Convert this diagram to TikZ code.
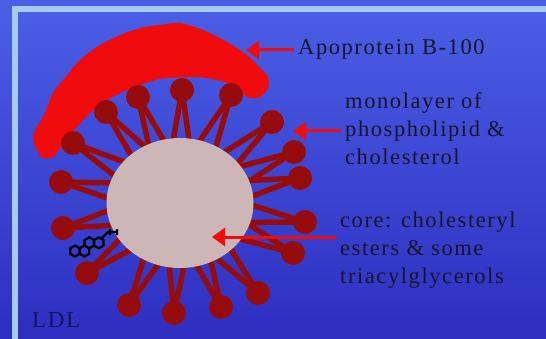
\documentclass[tikz,border=0pt]{standalone}
\usepackage{fontspec}
\newfontfamily\lblfont{Liberation Serif}[LetterSpace=7]
\usetikzlibrary{arrows.meta,calc}

\definecolor{bgtop}{RGB}{75,95,230}
\definecolor{bgmid}{RGB}{50,52,205}
\definecolor{bgbot}{RGB}{46,46,192}
\definecolor{framecol}{RGB}{165,203,245}
\definecolor{apored}{RGB}{240,12,12}
\definecolor{lipid}{RGB}{150,12,12}
\definecolor{corecol}{RGB}{204,182,182}
\definecolor{inkcol}{RGB}{22,22,40}
\definecolor{ldlcol}{RGB}{20,20,95}

\tikzset{
	lbl/.style={font=\lblfont\fontsize{22.5}{28}\selectfont, text=inkcol, align=left, inner sep=4pt},
	redarrow/.style={draw=apored, line width=3pt, -{Triangle[length=13pt,width=18pt]}},
	tail/.style={lipid, line width=5.5pt},
}

\begin{document}
\begin{tikzpicture}[x=1pt,y=-1pt]
			\useasboundingbox (0,0) rectangle (546,339);
			\shade[top color=bgtop, middle color=bgmid, bottom color=bgbot] (0,0) rectangle (546,339);
			\draw[framecol, line width=6pt] (15,339) -- (15,9) -- (546,9);
			% apoprotein B-100 band
			\fill[apored] plot[smooth cycle, tension=0.5] coordinates {
				(43,158) (37,150) (33,140) (35,130) (43,117) (53,93) (63,80) (80,60) (100,45)
				(125,33) (145,27) (160,25) (180,23) (203,30) (227,42) (247,55) (260,68) (268,77)
				(268,88) (260,97) (250,98) (240,92) (227,83) (207,78) (187,77) (160,79) (140,85)
				(127,90) (107,100) (90,113) (77,127) (67,137) (60,148) (53,157)};
			% phospholipids: two tails and a head each
			\coordinate (ctr) at (180,203);
			\foreach \p in {(182,90), (138,97), (231,95), (106,112), (272,122), (73,143),
					(294,152), (61,182), (300,178), (63,228), (305,222), (87,273),
					(293,253), (129,305), (174,313), (221,307), (258,293)} {
				\path \p coordinate (h);
				\draw[tail] (h) -- ($(h)!0.5!9:(ctr)$);
				\draw[tail] (h) -- ($(h)!0.5!-9:(ctr)$);
				\fill[lipid] (h) circle (12pt);
			}
			\fill[corecol] (ctr) ellipse [x radius=73.5pt, y radius=65pt];
			% cholesterol
			\foreach \c in {(75,251), (84.5,251), (89.3,242.8), (98.8,242.8)}
				\draw[black, line width=2.2pt] \c +(30:5.5) -- +(90:5.5) -- +(150:5.5) -- +(210:5.5) -- +(270:5.5) -- +(330:5.5) -- cycle;
			\draw[black, line width=2.2pt] (102,238) -- (108,232) -- (117,232) (110,229) -- (110,235) (117,229) -- (117,235);
			% labels
			\node[lbl, anchor=base west] (apolbl) at (294,55) {Apoprotein B-100};
			\node[lbl, anchor=north west] (monolbl) at (341,88) {monolayer of\\phospholipid \&\\cholesterol};
			\node[lbl, anchor=north west] (corelbl) at (336,208) {core: cholesteryl\\esters \& some\\triacylglycerols};
			\node[font=\lblfont\fontsize{23}{28}\selectfont, text=ldlcol, anchor=base west, inner sep=0pt] (ldl) at (32,327) {LDL};
			\coordinate (apotip) at (246,50);
			\coordinate (monotip) at (293,131);
			\coordinate (coretip) at (212,237);
			\draw[redarrow] (apolbl.west |- apotip) -- (apotip);
			\draw[redarrow] (monolbl.west |- monotip) -- (monotip);
			\draw[redarrow] (corelbl.west |- coretip) -- (coretip);
		\end{tikzpicture}
\end{document}
